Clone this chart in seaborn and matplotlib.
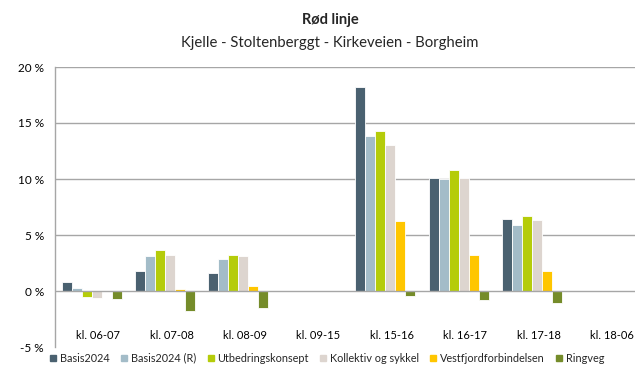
import matplotlib
matplotlib.use("Agg")
import matplotlib.pyplot as plt
import seaborn as sns
import numpy as np
import pandas as pd

periods = ["kl. 06-07", "kl. 07-08", "kl. 08-09", "kl. 09-15",
           "kl. 15-16", "kl. 16-17", "kl. 17-18", "kl. 18-06"]
scenarios = ["Basis2024", "Basis2024 (R)", "Utbedringskonsept",
             "Kollektiv og sykkel", "Vestfjordforbindelsen", "Ringveg"]

basis2024 = [0.83, 1.81, 1.63, 0.0, 18.21, 10.12, 6.46, 0.0]
basis2024_r = [0.30, 3.09, 2.88, 0.0, 13.84, 10.00, 5.92, 0.0]
utbedring = [-0.50, 3.69, 3.24, 0.0, 14.31, 10.83, 6.72, 0.0]
kollektiv = [-0.60, 3.21, 3.12, 0.0, 13.04, 10.12, 6.37, 0.0]
vestfjord = [0.0, 0.20, 0.45, 0.0, 6.28, 3.24, 1.81, 0.0]
ringveg = [-0.75, -1.76, -1.55, 0.0, -0.48, -0.84, -1.07, 0.0]

colors = ["#4A6170", "#A3BCC8", "#B5CC0A", "#DDD5CF", "#FFC600", "#758C2A"]

series = [basis2024, basis2024_r, utbedring, kollektiv, vestfjord, ringveg]
df = pd.DataFrame(
    [(p, s, v) for s, vals in zip(scenarios, series) for p, v in zip(periods, vals)],
    columns=["periode", "scenario", "endring"],
)

sns.set_theme(style="white")
plt.rcParams["font.family"] = ["Lato", "DejaVu Sans"]

W, H = 635, 369
fig = plt.figure(figsize=(W / 100, H / 100), dpi=100)
# plot area runs past the right edge of the canvas
ax = fig.add_axes([55 / W, 1 - 347 / H, 587 / W, (347 - 67) / H])

sns.barplot(data=df, x="periode", y="endring", hue="scenario",
            palette=colors, width=0.817, edgecolor="white", linewidth=0.6,
            saturation=1, ax=ax, legend=False)

ax.set_ylim(-5, 20)
ax.set_xlim(-0.5, len(periods) - 0.5)
ax.set_yticks([-5, 0, 5, 10, 15, 20])
ax.set_yticklabels(["-5 %", "0 %", "5 %", "10 %", "15 %", "20 %"],
                   fontsize=8.5, color="#000000")
# category labels sit slightly right of the bar groups
ax.set_xticks(np.arange(len(periods)) + 0.09)
ax.set_xticklabels(periods)
# horizontal gridlines; the zero line sits on top of the bar bases
for y in [5, 10, 15, 20]:
    ax.axhline(y, color="#A6A6A6", lw=1.0, zorder=0)
ax.axhline(0, color="#A6A6A6", lw=1.0, zorder=5)
ax.set_axisbelow(True)
ax.tick_params(axis="y", length=0, pad=8)
ax.tick_params(axis="x", length=0, pad=-12, labelsize=8, labelcolor="#000000")
ax.set_xlabel("")
ax.set_ylabel("")
for side in ["top", "right", "bottom"]:
    ax.spines[side].set_visible(False)
ax.spines["left"].set_color("#A6A6A6")
ax.spines["left"].set_linewidth(1.0)

fig.text(0.52, 1 - 20 / H, "Rød linje", ha="center", va="center",
         fontsize=10.5, fontweight="bold")
fig.text(0.52, 1 - 43 / H, "Kjelle - Stoltenberggt - Kirkeveien - Borgheim",
         ha="center", va="center", fontsize=10.7)

handles = [plt.Line2D([], [], marker="s", linestyle="none", markersize=5,
                      markerfacecolor=c, markeredgecolor=c) for c in colors]
fig.legend(handles, scenarios, loc="center", bbox_to_anchor=(327 / W, 1 - 358 / H),
           ncol=6, frameon=False, fontsize=7.8, handletextpad=0.25,
           columnspacing=1.0, handlelength=0.7, borderpad=0, borderaxespad=0)

fig.savefig("out.png", dpi=100)
